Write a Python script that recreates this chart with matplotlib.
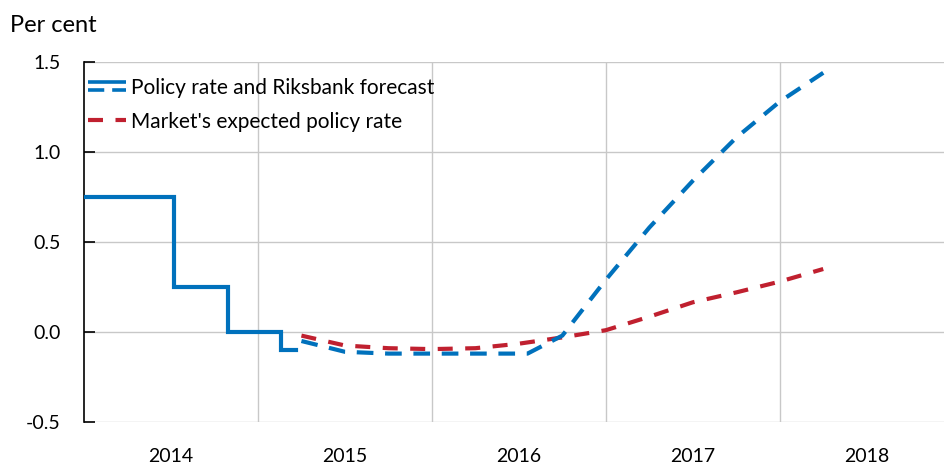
import matplotlib
matplotlib.use("Agg")
import matplotlib.pyplot as plt
from matplotlib.lines import Line2D
from matplotlib.legend_handler import HandlerBase

# Data
policy_x = [2014.0, 2014.52, 2014.83, 2015.13, 2015.22]
policy_y = [0.75, 0.25, 0.0, -0.10, -0.10]

forecast_x = [2015.25, 2015.5, 2015.75, 2016.0, 2016.25, 2016.55, 2016.75,
              2017.0, 2017.25, 2017.5, 2017.75, 2018.0, 2018.25]
forecast_y = [-0.05, -0.11, -0.12, -0.12, -0.12, -0.12, -0.02,
              0.29, 0.58, 0.84, 1.08, 1.28, 1.44]

market_x = [2015.25, 2015.5, 2015.75, 2016.0, 2016.25, 2016.5, 2016.75,
            2017.0, 2017.25, 2017.5, 2017.75, 2018.0, 2018.25]
market_y = [-0.02, -0.075, -0.09, -0.095, -0.09, -0.065, -0.03,
            0.01, 0.085, 0.165, 0.22, 0.28, 0.35]

years = [2014, 2015, 2016, 2017, 2018]
yticks = [-0.5, 0.0, 0.5, 1.0, 1.5]
ytick_labels = ["-0.5", "0.0", "0.5", "1.0", "1.5"]

BLUE = "#0071BC"
RED = "#C0202F"

plt.rcParams["font.family"] = ["Lato", "DejaVu Sans"]


class SplitHandler(HandlerBase):
    # solid line on top, dashed below, like the original legend key
    def create_artists(self, legend, orig_handle, xdescent, ydescent,
                       width, height, fontsize, trans):
        ymid = height / 2 - ydescent
        top = Line2D([-xdescent, width - xdescent], [ymid + 3.5, ymid + 3.5],
                     color=BLUE, lw=2.6, solid_capstyle="butt", transform=trans)
        bot = Line2D([-xdescent, width - xdescent], [ymid - 2.5, ymid - 2.5],
                     color=BLUE, lw=2.6, dashes=(4.5, 2.2), dash_capstyle="butt",
                     transform=trans)
        return [top, bot]


fig = plt.figure(figsize=(9.45, 4.65), dpi=100)
ax = fig.add_axes([84 / 945, 1 - 422 / 465, 1 - 84 / 945, (422 - 62) / 465])

ax.step(policy_x, policy_y, where="post", color=BLUE, lw=3.0,
        solid_joinstyle="miter", zorder=3)
ax.plot(forecast_x, forecast_y, color=BLUE, lw=3.0, dashes=(4.0, 2.8),
        dash_capstyle="butt", zorder=3)
ax.plot(market_x, market_y, color=RED, lw=3.0, dashes=(3.6, 3.0),
        dash_capstyle="butt", zorder=2)

ax.set_xlim(2014.0, 2018.95)
ax.set_ylim(-0.5, 1.5)

# gridlines at year boundaries, labels centred in each year
ax.set_xticks([2015, 2016, 2017, 2018])
ax.set_xticklabels([])
ax.set_xticks([y + 0.5 for y in years], minor=True)
ax.set_xticklabels([str(y) for y in years], minor=True)
ax.tick_params(axis="x", which="both", length=0, labelsize=14, pad=19)

ax.set_yticks(yticks)
ax.set_yticklabels(ytick_labels)
ax.tick_params(axis="y", direction="in", length=8, width=1.2,
               labelsize=14, pad=17, color="black")

ax.grid(True, which="major", color="#C8C8C8", lw=1.0)
ax.set_axisbelow(True)
for side in ["top", "right", "bottom"]:
    ax.spines[side].set_visible(False)
ax.spines["left"].set_color("black")
ax.spines["left"].set_linewidth(1.2)

handles = [Line2D([], [], color=BLUE), Line2D([], [], color=RED, lw=3.0,
                                                dashes=(3.6, 3.0), dash_capstyle="butt")]
labels = ["Policy rate and Riksbank forecast", "Market's expected policy rate"]
ax.legend(handles, labels, handler_map={handles[0]: SplitHandler()},
          loc="upper left", bbox_to_anchor=(4 / 861, 1 - 16 / 360), frameon=False,
          fontsize=15, handlelength=1.8, handletextpad=0.25, labelspacing=0.65,
          borderaxespad=0.0, borderpad=0.0)

fig.text(10 / 945, 1 - 25 / 465, "Per cent", fontsize=17, va="center", ha="left")

fig.savefig("out.png", dpi=100)
